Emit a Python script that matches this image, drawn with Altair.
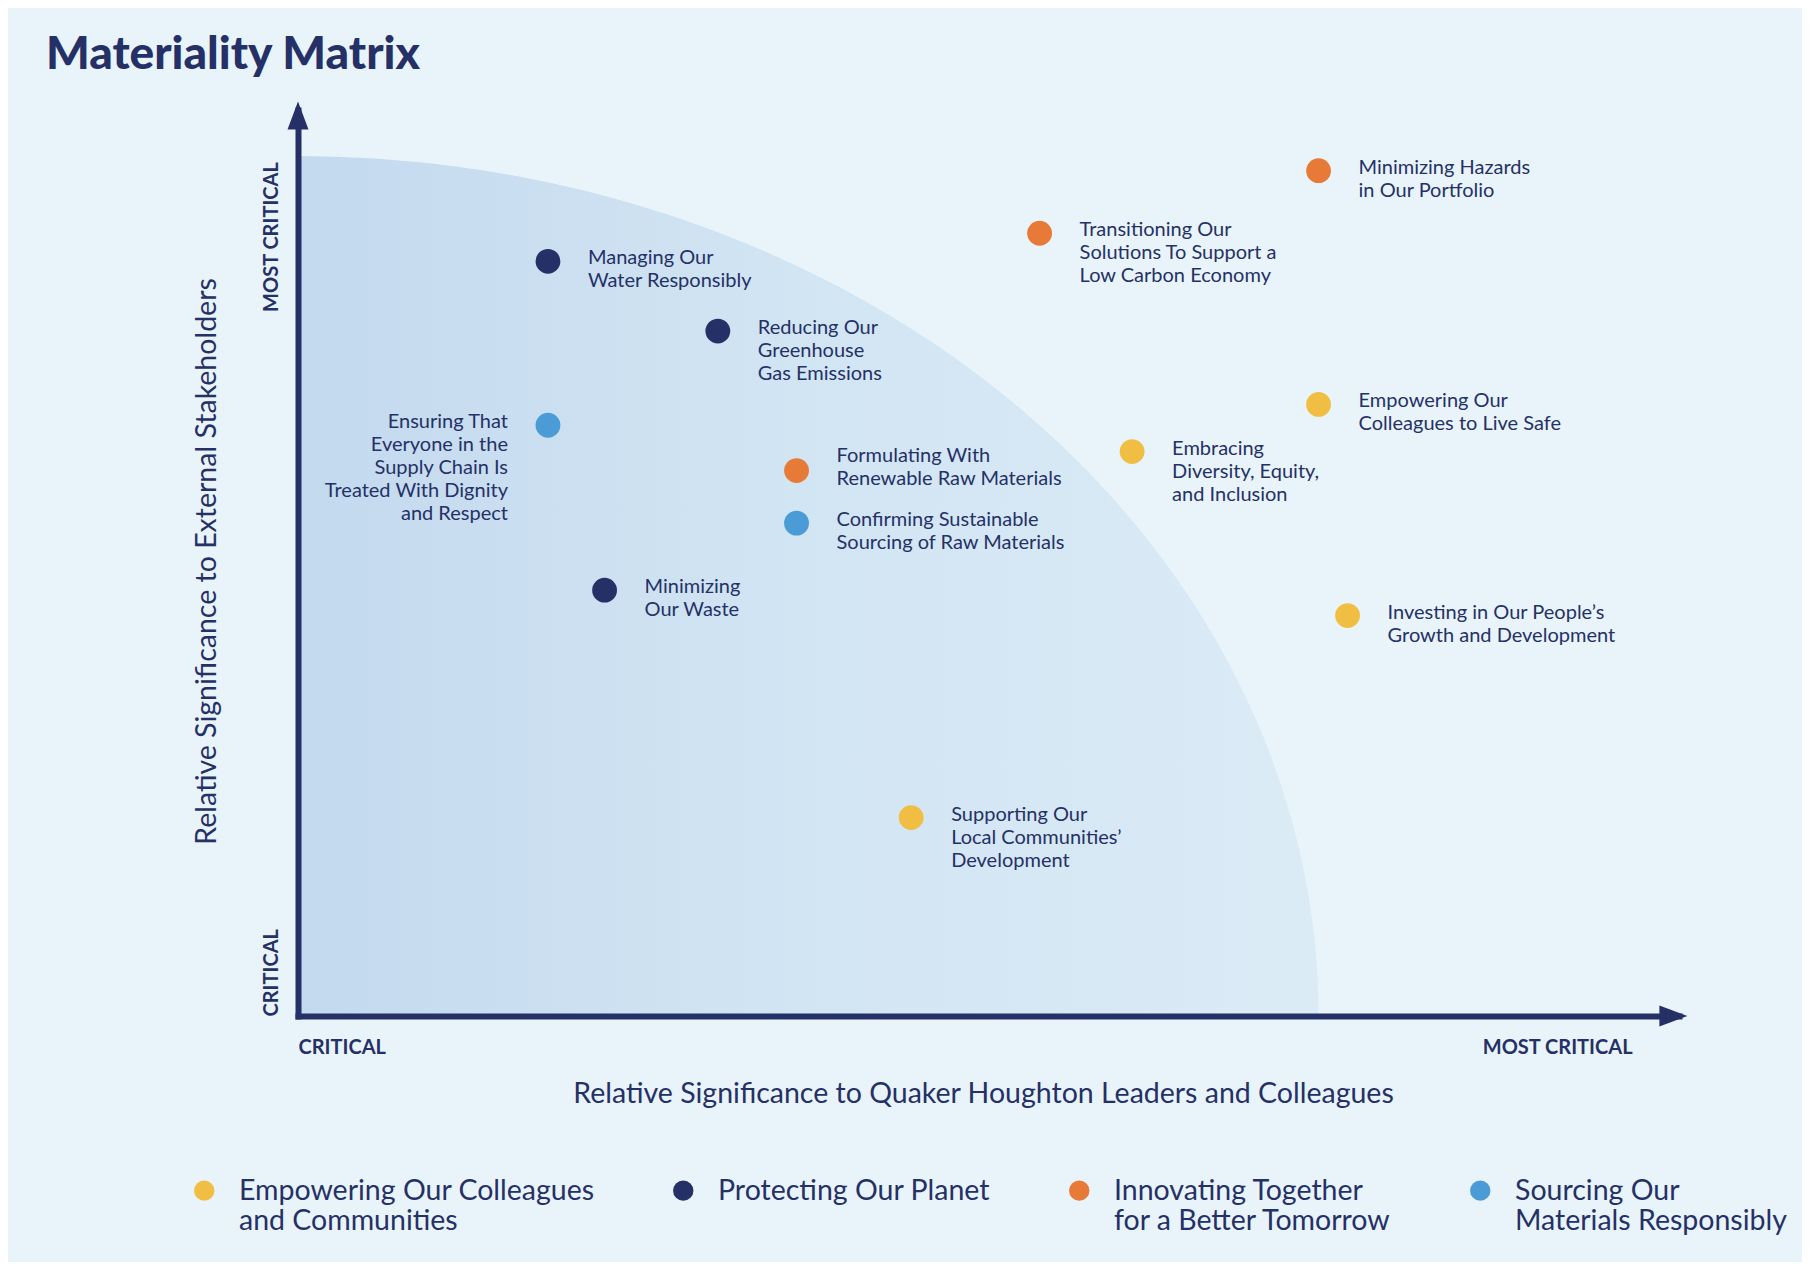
import altair as alt
import pandas as pd

NAVY = "#253166"
YELLOW = "#f0be42"
ORANGE = "#e67a36"
BLUE = "#4b9cd6"
BG = "#e9f4fa"
FONT = "Lato"
AXFONT = "Lato"

# ---- data ----
GROUPS = [
    "Empowering Our Colleagues\nand Communities",
    "Protecting Our Planet",
    "Innovating Together\nfor a Better Tomorrow",
    "Sourcing Our\nMaterials Responsibly",
]
GROUP_COLORS = [YELLOW, NAVY, ORANGE, BLUE]

topics = [
    "Managing Our\nWater Responsibly",
    "Reducing Our\nGreenhouse\nGas Emissions",
    "Ensuring That\nEveryone in the\nSupply Chain Is\nTreated With Dignity\nand Respect",
    "Formulating With\nRenewable Raw Materials",
    "Confirming Sustainable\nSourcing of Raw Materials",
    "Minimizing\nOur Waste",
    "Supporting Our\nLocal Communities\u2019\nDevelopment",
    "Transitioning Our\nSolutions To Support a\nLow Carbon Economy",
    "Minimizing Hazards\nin Our Portfolio",
    "Embracing\nDiversity, Equity,\nand Inclusion",
    "Empowering Our\nColleagues to Live Safe",
    "Investing in Our People\u2019s\nGrowth and Development",
]
leaders = [18.1, 30.4, 18.1, 36.1, 36.1, 22.2, 44.4, 53.7, 73.9, 60.4, 73.9, 76.0]
stakeholders = [83.3, 75.6, 65.2, 60.2, 54.4, 47.0, 21.9, 86.4, 93.3, 62.3, 67.5, 44.2]
pillar = [GROUPS[i] for i in [1, 1, 3, 2, 3, 1, 0, 2, 2, 0, 0, 0]]

LEFT_LABELS = ["Ensuring That\nEveryone in the\nSupply Chain Is\nTreated With Dignity\nand Respect"]
CENTERED_LABELS = ["Formulating With\nRenewable Raw Materials"]

# shaded "most material" zone (quarter ellipse radii, in axis units)
ZONE_X = 73.9
ZONE_Y = 94.9

df = pd.DataFrame({"topic": topics, "leaders": leaders,
                   "stakeholders": stakeholders, "pillar": pillar})

xs = alt.Scale(domain=[0, 100], nice=False, zero=False)
ys = alt.Scale(domain=[0, 100], nice=False, zero=False)

x_axis = alt.Axis(
    values=[0, 96.6],
    labelExpr="datum.value == 0 ? 'CRITICAL' : 'MOST CRITICAL'",
    labelAlign={"condition": {"test": "datum.value == 0", "value": "left"}, "value": "right"},
    labelBaseline="alphabetic", labelPadding=37, labelAngle=0,
    labelFont=AXFONT, labelFontSize=20, labelFontWeight="bold", labelColor=NAVY,
    labelFlush=False, labelOverlap=False, labelLimit=0,
    ticks=False, tickSize=0, grid=False,
    domainColor=NAVY, domainWidth=6, domainCap="square",
    title="Relative Significance to Quaker Houghton Leaders and Colleagues",
    titleFont=FONT, titleFontSize=28.5, titleFontWeight="normal", titleColor=NAVY,
    titleX=685, titleY=86, titleAlign="center", titleBaseline="alphabetic",
    zindex=1,
)
y_axis = alt.Axis(
    values=[0, 94.3],
    labelExpr="datum.value == 0 ? 'CRITICAL' : 'MOST CRITICAL'",
    labelAlign={"condition": {"test": "datum.value == 0", "value": "left"}, "value": "right"},
    labelBaseline="alphabetic", labelPadding=21, labelAngle=270,
    labelFont=AXFONT, labelFontSize=20, labelFontWeight="bold", labelColor=NAVY,
    labelFlush=False, labelOverlap=False, labelLimit=0,
    ticks=False, tickSize=0, grid=False,
    domainColor=NAVY, domainWidth=6, domainCap="square",
    title="Relative Significance to External Stakeholders",
    titleFont=FONT, titleFontSize=28.5, titleFontWeight="normal", titleColor=NAVY,
    titleAngle=270, titleX=-83, titleY=451, titleAlign="center", titleBaseline="alphabetic",
    zindex=1,
)

shade = alt.Chart(alt.sequence(0, 90.01, 0.5, as_="t")).transform_calculate(
    ex=f"{ZONE_X} * cos(datum.t * PI / 180)",
    ey=f"{ZONE_Y} * sin(datum.t * PI / 180)",
).mark_area(
    color=alt.Gradient(
        gradient="linear", x1=0, x2=1, y1=0, y2=0,
        stops=[alt.GradientStop(color="#c3d9ee", offset=0),
               alt.GradientStop(color="#d2e5f3", offset=0.5),
               alt.GradientStop(color="#dbebf6", offset=1)],
    ),
    opacity=1,
).encode(
    x=alt.X("ex:Q", scale=xs, axis=x_axis),
    y=alt.Y("ey:Q", scale=ys, axis=y_axis),
    y2=alt.datum(0),
)

arrow_x = alt.Chart(pd.DataFrame({"ax": [100.0], "ay": [0.0]})).mark_point(
    shape="M0.6,0L-1.4,-0.75L-1.4,0.75Z", filled=True, size=784,
    color=NAVY, opacity=1, strokeWidth=0,
).encode(x=alt.X("ax:Q", scale=xs), y=alt.Y("ay:Q", scale=ys))
arrow_y = alt.Chart(pd.DataFrame({"ax": [0.0], "ay": [100.0]})).mark_point(
    shape="M0,-0.6L0.75,1.4L-0.75,1.4Z", filled=True, size=784,
    color=NAVY, opacity=1, strokeWidth=0,
).encode(x=alt.X("ax:Q", scale=xs), y=alt.Y("ay:Q", scale=ys))

legend = alt.Legend(
    title=None, orient="none", legendX=-108, legendY=1066, direction="horizontal",
    symbolType="circle", symbolSize=415, symbolStrokeWidth=0, symbolOpacity=1,
    labelFont=FONT, labelFontSize=28.5, labelColor=NAVY, labelLimit=0,
    labelExpr="indexof(datum.label, '\\n') < 0 ? [datum.label, ' '] : split(datum.label, '\\n')",
    labelBaseline="middle",
    labelOffset=20.5, columnPadding=74, padding=0,
)

dots = alt.Chart(df).mark_circle(size=616, opacity=1).encode(
    x=alt.X("leaders:Q", scale=xs),
    y=alt.Y("stakeholders:Q", scale=ys),
    color=alt.Color("pillar:N", scale=alt.Scale(domain=GROUPS, range=GROUP_COLORS), legend=legend),
)

txt = dict(font=FONT, fontSize=20, lineHeight=23, color=NAVY, lineBreak="\n", baseline="top")
special = LEFT_LABELS + CENTERED_LABELS
labels_r = alt.Chart(df).transform_filter(
    f"indexof({special!r}, datum.topic) < 0"
).mark_text(align="left", dx=40, dy=-13, **txt).encode(
    x=alt.X("leaders:Q", scale=xs), y=alt.Y("stakeholders:Q", scale=ys), text="topic:N")
labels_l = alt.Chart(df).transform_filter(
    alt.FieldOneOfPredicate(field="topic", oneOf=LEFT_LABELS)
).mark_text(align="right", dx=-40, dy=-13, **txt).encode(
    x=alt.X("leaders:Q", scale=xs), y=alt.Y("stakeholders:Q", scale=ys), text="topic:N")
labels_c = alt.Chart(df).transform_filter(
    alt.FieldOneOfPredicate(field="topic", oneOf=CENTERED_LABELS)
).mark_text(align="left", dx=40, dy=-25, **txt).encode(
    x=alt.X("leaders:Q", scale=xs), y=alt.Y("stakeholders:Q", scale=ys), text="topic:N")

chart = alt.layer(shade, arrow_x, arrow_y, dots, labels_r, labels_l, labels_c).properties(
    width=1381, height=906,
    title=alt.TitleParams("Materiality Matrix", anchor="start", frame="group", dx=-252,
                          offset=23, font=FONT, fontSize=46, fontWeight=900, color=NAVY),
    autosize=alt.AutoSizeParams(type="none"),
    padding={"left": 290, "top": 102, "right": 123, "bottom": 246},
    background=BG,
).configure_view(stroke=None)

chart.save("out.html", embed_options={"renderer": "svg", "actions": False})
